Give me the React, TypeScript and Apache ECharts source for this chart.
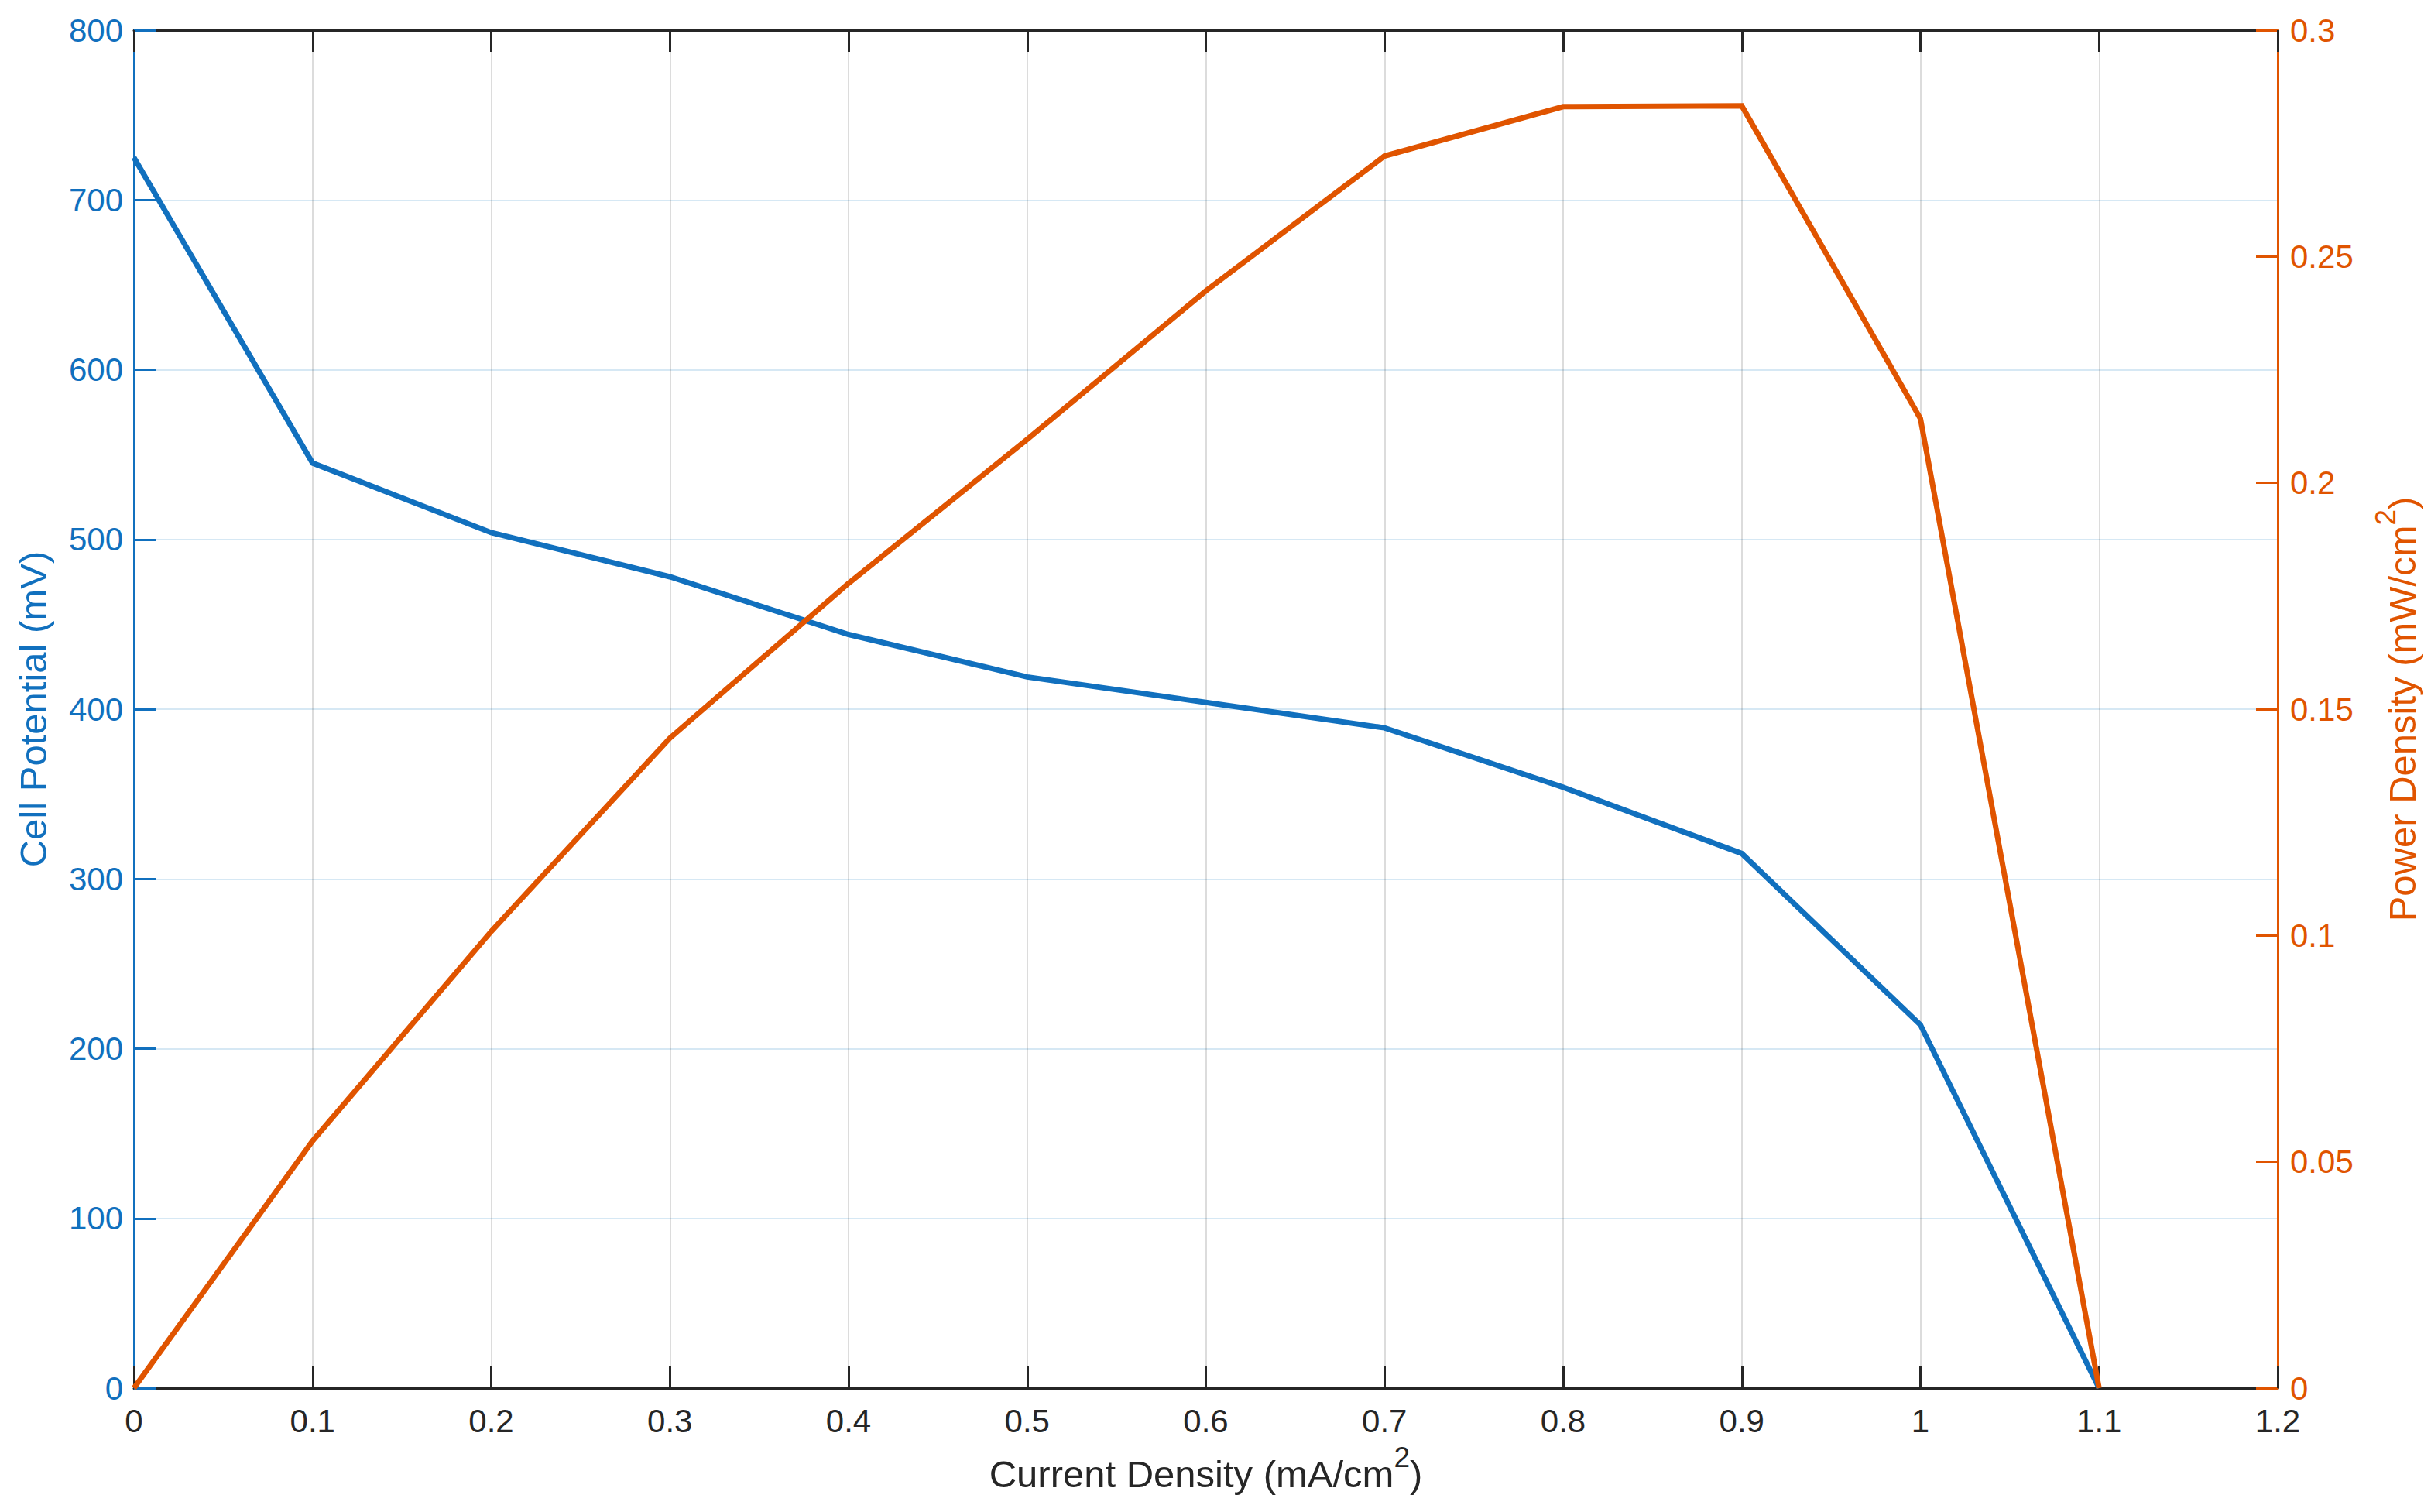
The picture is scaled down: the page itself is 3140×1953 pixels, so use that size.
import React, { useEffect, useRef } from "react";
import * as echarts from "echarts";

const currentDensity = [0, 0.1, 0.2, 0.3, 0.4, 0.5, 0.6, 0.7, 0.8, 0.9, 1.0, 1.1];
const cellPotential = [725, 545, 504, 478, 444, 419, 404, 389, 354, 315, 214, 0];
const powerDensity = [0, 0.0546, 0.1009, 0.1436, 0.1778, 0.2096, 0.2424, 0.2722, 0.2831, 0.2833, 0.2142, 0];

const xLimits = [0, 1.2];
const xStep = 0.1;
const leftLimits = [0, 800];
const leftStep = 100;
const rightLimits = [0, 0.3];
const rightStep = 0.05;

const xTitle = "Current Density (mA/cm{s|2})";
const leftTitle = "Cell Potential (mV)";
const rightTitle = "Power Density (mW/cm{s|2})";

const BLUE = "#1170BE";
const ORANGE = "#E05400";
const DARK = "#262626";
const FONT = "'Liberation Sans', Arial, Helvetica, sans-serif";

const fmt = (v: number) => String(+Number(v).toFixed(3));

export default function App() {
  const ref = useRef<HTMLDivElement>(null);

  useEffect(() => {
    document.body.style.margin = "0";
    document.body.style.overflow = "hidden";
    if (!ref.current) return;
    const chart = echarts.init(ref.current, null, { renderer: "svg" });

    const sup = (color: string) => ({
      s: {
        fontSize: 37,
        lineHeight: 37,
        color,
        fontFamily: FONT,
        padding: [0, 0, 42, 0],
      },
    });

    const option: any = {
      animation: false,
      backgroundColor: "#ffffff",
      grid: {
        left: 173,
        right: 198,
        top: 39,
        bottom: 160,
        containLabel: false,
        outerBoundsMode: "none",
      },
      xAxis: [
        {
          type: "value",
          position: "bottom",
          min: xLimits[0],
          max: xLimits[1],
          interval: xStep,
          axisLine: { show: true, onZero: false, lineStyle: { color: DARK, width: 3 } },
          axisTick: { show: true, inside: true, length: 28, lineStyle: { color: DARK, width: 3 } },
          axisLabel: { color: DARK, fontSize: 42, fontFamily: FONT, margin: 21, formatter: fmt },
          splitLine: { show: true, lineStyle: { color: "rgba(38,38,38,0.16)", width: 2 } },
          name: xTitle,
          nameLocation: "middle",
          nameGap: 86,
          nameTextStyle: { color: DARK, fontSize: 49, fontFamily: FONT, rich: sup(DARK) },
        },
        {
          type: "value",
          position: "top",
          min: xLimits[0],
          max: xLimits[1],
          interval: xStep,
          axisLine: { show: true, onZero: false, lineStyle: { color: DARK, width: 3 } },
          axisTick: { show: true, inside: true, length: 28, lineStyle: { color: DARK, width: 3 } },
          axisLabel: { show: false },
          splitLine: { show: false },
        },
      ],
      yAxis: [
        {
          type: "value",
          position: "left",
          min: leftLimits[0],
          max: leftLimits[1],
          interval: leftStep,
          axisLine: { show: true, onZero: false, lineStyle: { color: BLUE, width: 3 } },
          axisTick: { show: true, inside: true, length: 28, lineStyle: { color: BLUE, width: 3 } },
          axisLabel: { color: BLUE, fontSize: 42, fontFamily: FONT, margin: 14, formatter: fmt },
          splitLine: { show: true, lineStyle: { color: "rgba(0,114,189,0.16)", width: 2 } },
          name: leftTitle,
          nameLocation: "middle",
          nameRotate: 90,
          nameGap: 106,
          nameTextStyle: { color: BLUE, fontSize: 49, fontFamily: FONT },
        },
        {
          type: "value",
          position: "right",
          min: rightLimits[0],
          max: rightLimits[1],
          interval: rightStep,
          axisLine: { show: true, onZero: false, lineStyle: { color: ORANGE, width: 3 } },
          axisTick: { show: true, inside: true, length: 28, lineStyle: { color: ORANGE, width: 3 } },
          axisLabel: { color: ORANGE, fontSize: 42, fontFamily: FONT, margin: 16, formatter: fmt },
          splitLine: { show: false },
          name: rightTitle,
          nameLocation: "middle",
          nameRotate: 90,
          nameGap: 136,
          nameTextStyle: { color: ORANGE, fontSize: 49, fontFamily: FONT, rich: sup(ORANGE) },
        },
      ],
      series: [
        {
          type: "line",
          xAxisIndex: 0,
          yAxisIndex: 0,
          data: currentDensity.map((x, i) => [x, cellPotential[i]]),
          showSymbol: false,
          symbol: "none",
          lineStyle: { color: BLUE, width: 7, join: "miter" },
          itemStyle: { color: BLUE },
          z: 3,
        },
        {
          type: "line",
          xAxisIndex: 0,
          yAxisIndex: 1,
          data: currentDensity.map((x, i) => [x, powerDensity[i]]),
          showSymbol: false,
          symbol: "none",
          lineStyle: { color: ORANGE, width: 7, join: "miter" },
          itemStyle: { color: ORANGE },
          z: 4,
        },
      ],
    };

    chart.setOption(option);
    return () => chart.dispose();
  }, []);

  return <div ref={ref} style={{ width: 3140, height: 1953, overflow: "hidden" }} />;
}
